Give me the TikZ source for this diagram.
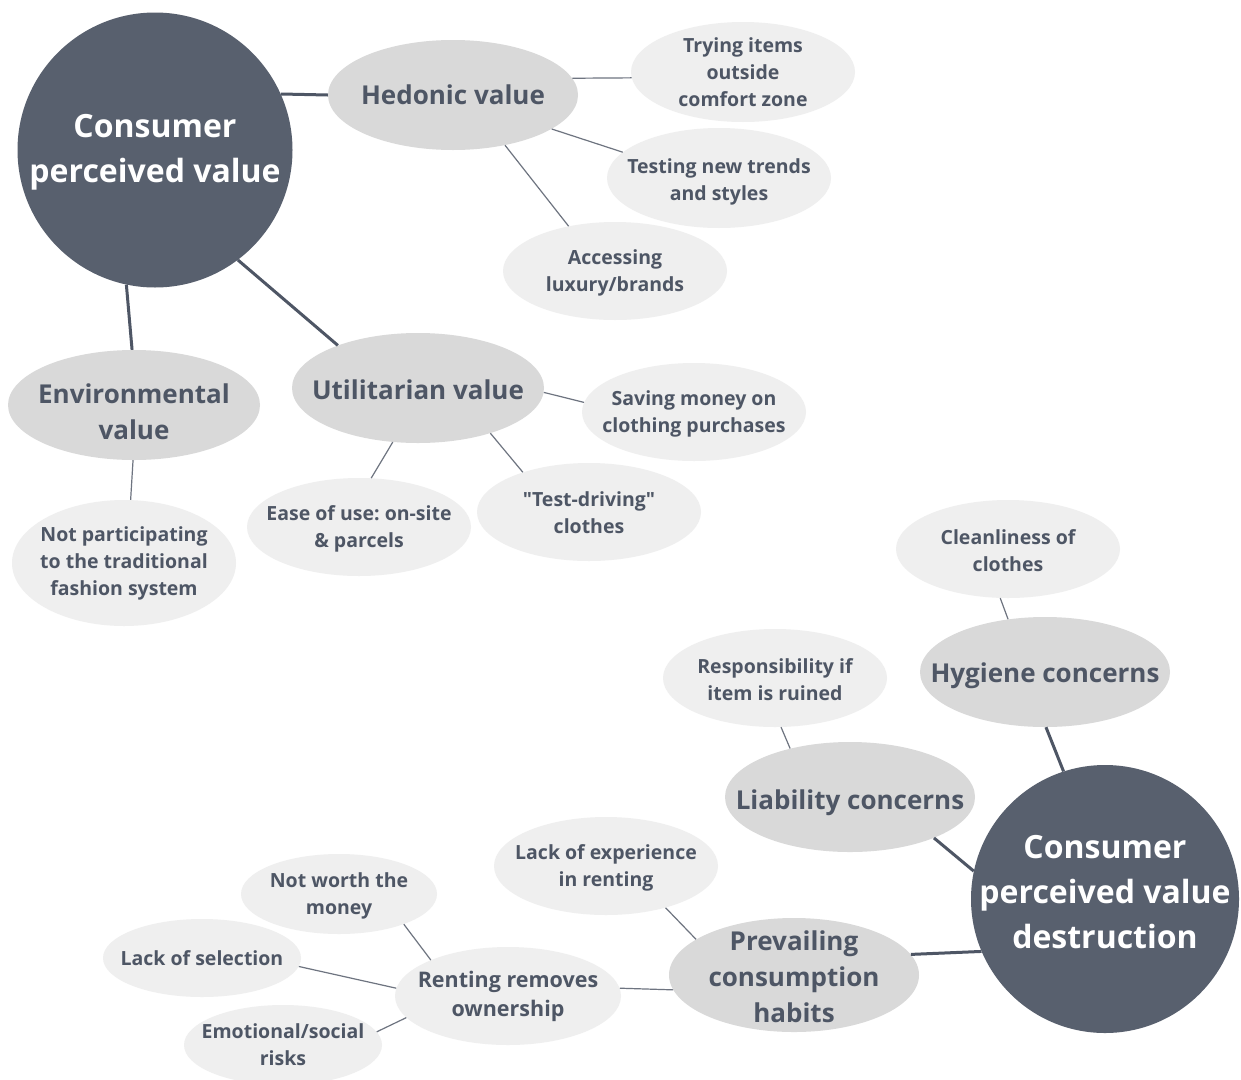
\documentclass[tikz,border=0pt]{standalone}
\usepackage{fontspec}
\setmainfont{Open Sans}
\usepackage{xcolor}
\usepackage{tikz}
\usetikzlibrary{shapes.geometric}

\definecolor{hubfill}{RGB}{88,96,110}
\definecolor{midfill}{RGB}{217,217,217}
\definecolor{leaffill}{RGB}{239,239,239}
\definecolor{inkcol}{RGB}{78,86,101}
\definecolor{thincol}{RGB}{110,116,128}

\begin{document}
\begin{tikzpicture}[x=1pt, y=-1pt,
    hub/.style={circle, fill=hubfill, inner sep=0pt},
    branch/.style={ellipse, fill=midfill, inner sep=0pt, minimum width=250, minimum height=110},
    leaf/.style={ellipse, fill=leaffill, inner sep=0pt, minimum width=224, minimum height=98},
    hubtxt/.style={text=white, align=center, font=\bfseries\fontsize{32}{45}\selectfont},
    branchtxt/.style={text=inkcol, align=center, font=\bfseries\fontsize{26}{36}\selectfont},
    leaftxt/.style={text=inkcol, align=center, font=\bfseries\frenchspacing\fontsize{19.5}{27}\selectfont},
    main/.style={draw=inkcol, line width=3pt},
    sub/.style={draw=thincol, line width=1.2pt}]

    \fill[white] (0,0) rectangle (1241,1079);
    \useasboundingbox (0,0) rectangle (1241,1079);

    % value creation side
    \node[hub, minimum size=275, label={[hubtxt, yshift=-2]center:{Consumer\\perceived value}}] (cpv) at (155,150) {};

    \node[branch, label={[branchtxt]center:{Hedonic value}}] (hedonic) at (453,95) {};
    \node[leaf, minimum height=100, label={[leaftxt]center:{Trying items\\outside\\comfort zone}}] (trying) at (743,72) {};
    \node[leaf, minimum height=100, label={[leaftxt, yshift=-4]center:{Testing new trends\\and styles}}] (trends) at (719,178) {};
    \node[leaf, label={[leaftxt, yshift=-2]center:{Accessing\\luxury/brands}}] (luxury) at (615,271) {};

    \node[branch, minimum width=252, label={[branchtxt, yshift=-7]center:{Environmental\\value}}] (environ) at (134,405) {};
    \node[leaf, minimum height=126, label={[leaftxt]center:{Not participating\\to the traditional\\fashion system}}] (notpart) at (124,563) {};

    \node[branch, minimum width=252, label={[branchtxt, yshift=-2]center:{Utilitarian value}}] (util) at (418,388) {};
    \node[leaf, label={[leaftxt, yshift=-2]center:{Saving money on\\clothing purchases}}] (saving) at (694,412) {};
    \node[leaf, label={[leaftxt, yshift=-2]center:{Ease of use: on-site\\\& parcels}}] (ease) at (359,527) {};
    \node[leaf, label={[leaftxt, yshift=-1]center:{\textquotedbl Test-driving\textquotedbl\\clothes}}] (testdrive) at (589,512) {};

    % value destruction side
    \node[hub, minimum size=268, label={[hubtxt, yshift=7]center:{Consumer\\perceived value\\destruction}}] (cpvd) at (1105,899) {};

    \node[leaf, label={[leaftxt, yshift=-2]center:{Cleanliness of\\clothes}}] (clean) at (1008,549) {};
    \node[branch, label={[branchtxt, yshift=-4]center:{Hygiene concerns}}] (hygiene) at (1045,672) {};

    \node[leaf, label={[leaftxt, yshift=-2]center:{Responsibility if\\item is ruined}}] (ruined) at (775,678) {};
    \node[branch, label={[branchtxt, yshift=-6]center:{Liability concerns}}] (liability) at (850,797) {};

    \node[branch, minimum height=114, label={[branchtxt, yshift=-2]center:{Prevailing\\consumption\\habits}}] (habits) at (794,975) {};
    \node[leaf, label={[leaftxt, yshift=-2]center:{Lack of experience\\in renting}}] (inexp) at (606,866) {};
    \node[leaf, minimum width=226, label={[leaftxt, font=\bfseries\fontsize{21.5}{29}\selectfont]center:{Renting removes\\ownership}}] (renting) at (508,996) {};

    \node[leaf, minimum width=196, minimum height=80, label={[leaftxt, yshift=-2]center:{Not worth the\\money}}] (notworth) at (339,894) {};
    \node[leaf, minimum width=198, minimum height=78, label={[leaftxt]center:{Lack of selection}}] (selection) at (202,958) {};
    \node[leaf, minimum width=198, minimum height=80, label={[leaftxt]center:{Emotional/social\\risks}}] (risks) at (283,1045) {};

    % links
    \draw[main] (cpv.24) -- (hedonic.180);
    \draw[main] (cpv.-102) -- (environ.92);
    \draw[main] (cpv.-53) -- (util.152);

    \draw[sub] (hedonic.8) -- (trying.183);
    \draw[sub] (hedonic.-19) -- (trends.165);
    \draw[sub] (hedonic.-44) -- (luxury.136);
    \draw[sub] (environ.-91) -- (notpart.84);
    \draw[sub] (util.-2) -- (saving.175);
    \draw[sub] (util.-115) -- (ease.76);
    \draw[sub] (util.-32) -- (testdrive.149);

    \draw[main] (hygiene.-89) -- (cpvd.108);
    \draw[main] (liability.-26) -- (cpvd.168);
    \draw[main] (habits.10) -- (cpvd.203);

    \draw[sub] (clean.-99) -- (hygiene.125);
    \draw[sub] (ruined.-83) -- (liability.141);
    \draw[sub] (inexp.-35) -- (habits.160);
    \draw[sub] (renting.4) -- (habits.187);
    \draw[sub] (notworth.-25) -- (renting.155);
    \draw[sub] (selection.-5) -- (renting.176);
    \draw[sub] (risks.8) -- (renting.-168);

\end{tikzpicture}
\end{document}
